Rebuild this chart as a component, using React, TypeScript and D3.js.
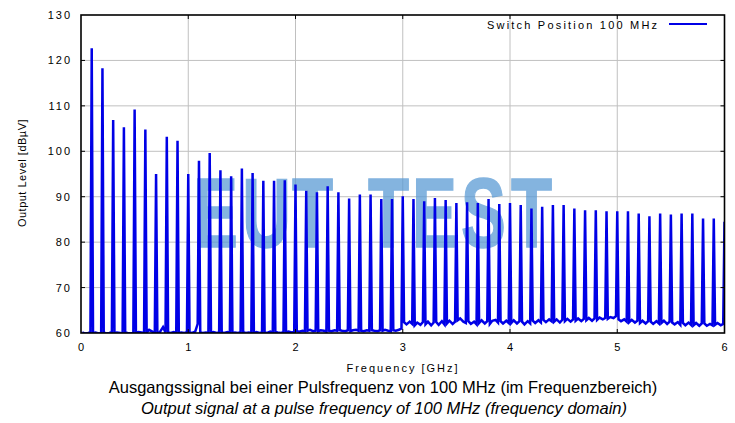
import React from 'react';
import * as d3 from 'd3';

// Harmonic spacing (pulse frequency) in GHz
const PULSE_GHZ = 0.1;

// Peak level of each harmonic (0.1 ... 6.0 GHz), dBµV
const PEAKS = [
  122.7, 118.3, 106.9, 105.3, 109.2, 104.8, 95.0, 103.2, 102.3, 95.0,
  97.9, 99.6, 95.8, 94.5, 96.2, 95.2, 93.5, 93.5, 93.6, 92.7,
  91.3, 91.0, 92.3, 91.0, 89.6, 90.5, 90.5, 89.5, 89.5, 90.1,
  89.5, 89.0, 89.7, 89.3, 88.6, 88.8, 88.6, 89.5, 88.4, 88.6,
  88.2, 87.4, 87.8, 88.2, 88.2, 87.4, 87.0, 87.0, 86.8, 86.8,
  86.8, 86.3, 85.7, 86.3, 86.1, 86.3, 86.3, 85.2, 85.2, 84.5,
];

// Noise floor between harmonics (4 readings per 100 MHz interval), dBµV
const NOISE_OFFSETS = [0.012, 0.035, 0.065, 0.088];
const NOISE = [
  [60.1, 59.9, 60.0, 60.1], [60.0, 60.1, 59.9, 60.0], [60.1, 59.9, 60.0, 60.2], [60.0, 60.1, 60.0, 59.9],
  [60.1, 60.0, 59.9, 60.0], [60.0, 60.2, 60.1, 60.0], [60.1, 60.7, 60.3, 60.0], [60.0, 60.2, 61.3, 60.1],
  [60.1, 60.0, 60.2, 60.0], [60.0, 60.1, 60.0, 60.2],
  [60.1, 60.0, 60.3, 62.0], [60.1, 60.0, 60.1, 60.0], [60.0, 60.2, 60.0, 60.1], [60.1, 60.0, 60.2, 60.0],
  [60.0, 60.1, 60.0, 60.2], [60.2, 60.0, 60.1, 60.0], [60.0, 60.2, 60.0, 60.1], [60.1, 60.0, 60.3, 60.1],
  [60.2, 60.1, 60.0, 60.2], [60.1, 60.3, 60.1, 60.2],
  [60.4, 60.3, 60.5, 60.4], [60.5, 60.7, 60.4, 60.5], [60.4, 60.6, 60.5, 60.3], [60.5, 60.4, 60.6, 60.5],
  [60.6, 60.5, 60.4, 60.6], [60.4, 60.6, 60.7, 60.5], [60.5, 60.4, 60.6, 60.5], [60.6, 60.5, 60.4, 60.6],
  [60.5, 60.7, 60.5, 60.4], [60.6, 60.5, 60.7, 61.0],
  [62.4, 61.9, 62.5, 62.0], [61.7, 62.3, 61.8, 62.4], [61.9, 62.5, 61.7, 62.3], [62.4, 61.8, 62.6, 61.9],
  [62.1, 62.7, 62.0, 62.5], [62.8, 63.2, 62.5, 62.2], [62.6, 62.0, 62.5, 61.9], [62.2, 62.8, 62.1, 62.6],
  [62.0, 62.7, 62.9, 62.3], [62.6, 62.1, 62.7, 62.2],
  [62.2, 62.8, 62.1, 62.6], [62.5, 61.9, 62.6, 62.1], [62.7, 62.2, 62.8, 62.3], [62.9, 62.4, 63.0, 62.6],
  [62.5, 63.0, 62.3, 62.9], [62.6, 63.1, 62.5, 63.0], [62.7, 63.2, 62.6, 63.1], [62.8, 63.3, 62.7, 63.2],
  [62.9, 63.4, 63.0, 63.3], [63.1, 63.5, 63.3, 63.7],
  [63.0, 62.6, 63.0, 62.5], [62.4, 62.9, 62.3, 62.7], [62.2, 62.7, 62.1, 62.6], [62.5, 62.0, 62.6, 62.1],
  [62.2, 62.7, 62.0, 62.5], [62.3, 61.9, 62.4, 61.8], [62.2, 61.7, 62.3, 61.8], [61.7, 62.2, 61.6, 62.1],
  [62.1, 61.6, 62.0, 61.7], [61.8, 62.2, 61.7, 62.0],
];

const X_TICKS = [0, 1, 2, 3, 4, 5, 6];
const Y_TICKS = [60, 70, 80, 90, 100, 110, 120, 130];
const LEGEND_LABEL = 'Switch Position 100 MHz';
const X_TITLE = 'Frequency [GHz]';
const Y_TITLE = 'Output Level [dBµV]';
const CAPTION_DE = 'Ausgangssignal bei einer Pulsfrequenz von 100 MHz (im Frequenzbereich)';
const CAPTION_EN = 'Output signal at a pulse frequency of 100 MHz (frequency domain)';
const WATERMARK = [
  { ch: 'E', cx: 215.5 }, { ch: 'U', cx: 266.5 }, { ch: 'T', cx: 312.5 },
  { ch: 'T', cx: 388.5 }, { ch: 'E', cx: 434.5 }, { ch: 'S', cx: 483.5 }, { ch: 'T', cx: 531.5 },
];

const FONT = "'Liberation Sans', Arial, sans-serif";
const BLUE = '#0000e6';

export default function App() {
  const W = 735, H = 423;
  const L = 81, R = 724.5, T = 15, B = 333;
  const x = d3.scaleLinear().domain([0, 6]).range([L, R]);
  const y = d3.scaleLinear().domain([60, 130]).range([B, T]);

  const pts: [number, number][] = [];
  PEAKS.forEach((p, i) => {
    NOISE[i].forEach((n, j) => pts.push([i * PULSE_GHZ + NOISE_OFFSETS[j], n]));
    pts.push([(i + 1) * PULSE_GHZ, p]);
  });
  const line = d3.line<[number, number]>().x(d => x(d[0])).y(d => y(d[1]));
  const path = line(pts) || '';

  const tick = 4;

  return (
    <svg width={W} height={H} style={{ position: 'absolute', left: 0, top: 0, background: '#fff' }}
      fontFamily={FONT}>
      <defs>
        <clipPath id="plotclip">
          <rect x={L} y={T} width={R - L} height={B - T} />
        </clipPath>
      </defs>
      <rect x={0} y={0} width={W} height={H} fill="#fff" />

      {/* grid */}
      <g stroke="#c0c0c0" strokeWidth={1}>
        {X_TICKS.slice(1, -1).map(t => (
          <line key={'gx' + t} x1={x(t)} x2={x(t)} y1={T} y2={B} />
        ))}
        {Y_TICKS.slice(1, -1).map(t => (
          <line key={'gy' + t} x1={L} x2={R} y1={y(t)} y2={y(t)} />
        ))}
      </g>

      {/* watermark */}
      <g opacity={0.75} fill="#5b9bd5" stroke="#5b9bd5" strokeWidth={1.5} fontWeight={700} fontSize={99}>
        {WATERMARK.map((w, i) => (
          <text key={'wm' + i} transform={`translate(${w.cx},247) scale(0.68,1)`} textAnchor="middle">{w.ch}</text>
        ))}
      </g>

      {/* trace */}
      <path d={path} fill="none" stroke={BLUE} strokeWidth={2.5} clipPath="url(#plotclip)" />

      {/* frame */}
      <rect x={L} y={T} width={R - L} height={B - T} fill="none" stroke="#000" strokeWidth={1.6} />
      <g stroke="#000" strokeWidth={1}>
        {X_TICKS.slice(1, -1).map(t => (
          <g key={'tx' + t}>
            <line x1={x(t)} x2={x(t)} y1={B} y2={B - tick} />
            <line x1={x(t)} x2={x(t)} y1={T} y2={T + tick} />
          </g>
        ))}
        {Y_TICKS.slice(1, -1).map(t => (
          <g key={'ty' + t}>
            <line x1={L} x2={L + tick} y1={y(t)} y2={y(t)} />
            <line x1={R} x2={R - tick} y1={y(t)} y2={y(t)} />
          </g>
        ))}
      </g>

      {/* tick labels */}
      <g fontSize={11} fill="#000" letterSpacing={2}>
        {Y_TICKS.map(t => (
          <text key={'ly' + t} x={72} y={y(t) + 4} textAnchor="end">{t}</text>
        ))}
        {X_TICKS.map(t => (
          <text key={'lx' + t} x={x(t) + 1} y={351} textAnchor="middle">{t}</text>
        ))}
        <text x={403} y={372} textAnchor="middle">{X_TITLE}</text>
      </g>
      <text transform={`translate(26,173) rotate(-90)`} fontSize={11} letterSpacing={0.5} textAnchor="middle" fill="#000">{Y_TITLE}</text>

      {/* legend */}
      <text x={487} y={29} fontSize={11} letterSpacing={2.2} fill="#000">{LEGEND_LABEL}</text>
      <line x1={669} x2={707} y1={24} y2={24} stroke={BLUE} strokeWidth={2} />

      {/* captions */}
      <text x={383} y={393} fontSize={16.5} textAnchor="middle" fill="#000">{CAPTION_DE}</text>
      <text x={384} y={414} fontSize={16.5} fontStyle="italic" textAnchor="middle" fill="#000">{CAPTION_EN}</text>
    </svg>
  );
}
